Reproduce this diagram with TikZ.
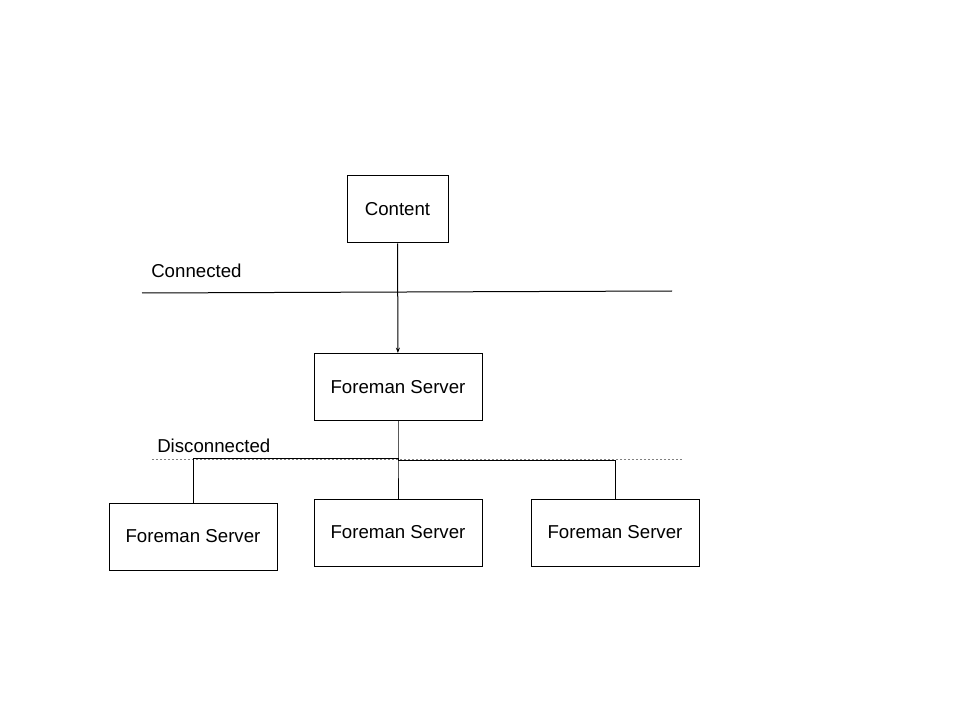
\documentclass[tikz,border=0pt]{standalone}
\usepackage{fontspec}
\setmainfont{Liberation Sans}
\usetikzlibrary{positioning,arrows.meta}

\begin{document}
\begin{tikzpicture}[x=0.75pt,y=-0.75pt]
	\tikzset{box/.style={draw,line width=0.75pt,minimum width=168*0.75pt,minimum height=67*0.75pt,font=\fontsize{14}{16}\selectfont}}
	\tikzset{lbl/.style={font=\fontsize{14}{16}\selectfont,anchor=west,inner sep=0pt}}
	\useasboundingbox (0,0) rectangle (960,720);
	\node[box,minimum width=101*0.75pt] (content) at (397.5,209.5) {Content};
	\node[box] (server) at (398,387) {Foreman Server};
	\node[box] (left) at (193,536.5) {Foreman Server};
	\node[box] (mid) at (398,532.5) {Foreman Server};
	\node[box] (right) at (615,532.5) {Foreman Server};
	\node[lbl] (conn) at (151,271) {Connected};
	\node[lbl] (disc) at (157,446) {Disconnected};
	\coordinate (c1) at (142,293);
	\coordinate (c2) at (672,291);
	\coordinate (d1) at (152,459);
	\coordinate (d2) at (683,459);
	\coordinate (split) at (398,458);
	\draw[line width=0.75pt] (c1) -- (c2);
	\draw[gray,line width=0.6pt,dash pattern=on 1.5pt off 1.5pt] (d1) -- (d2);
	\draw[line width=0.75pt,-{Stealth[length=4pt,width=3pt]}] (content) -- (server);
	\draw[line width=0.75pt] (server) -- (split) -- (mid);
	\draw[line width=0.75pt] (split) -| (left);
	\draw[line width=0.75pt] (split) |- ++(0,2) -| (right);
\end{tikzpicture}
\end{document}
